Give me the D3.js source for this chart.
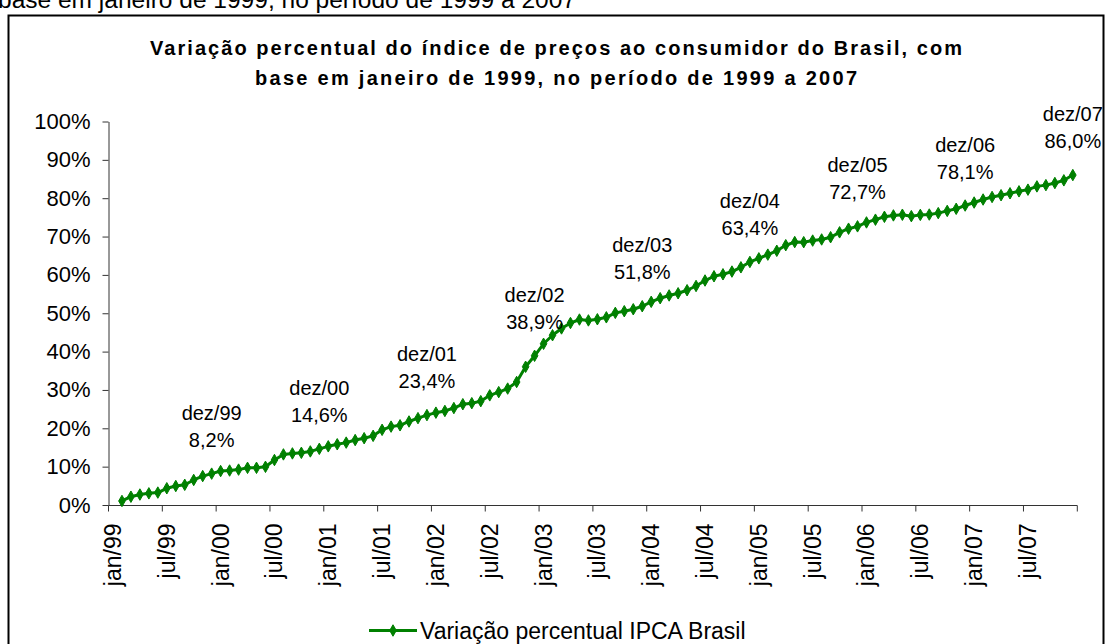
<!DOCTYPE html>
<html>
<head>
<meta charset="utf-8">
<script src="https://cdn.jsdelivr.net/npm/d3@7"></script>
<style>
  html, body { margin: 0; padding: 0; background: #fff; }
  svg { display: block; font-family: "Liberation Sans", Arial, sans-serif; }
</style>
</head>
<body>
<svg id="chart" width="1106" height="644"></svg>
<script>
// ---- DATA ----
const monthNames = ["jan","fev","mar","abr","mai","jun","jul","ago","set","out","nov","dez"];
const years = ["99","00","01","02","03","04","05","06","07"];
const categories = [];
years.forEach(y => monthNames.forEach(m => categories.push(m + "/" + y)));

// cumulative % variation (jan/99 = base, no point)
const values = [
  null, 1.05, 2.16, 2.73, 3.04, 3.24, 4.36, 4.95, 5.27, 6.53, 7.54, 8.18,
  8.85, 8.99, 9.23, 9.69, 9.70, 9.96, 11.73, 13.19, 13.45, 13.61, 13.97, 14.65,
  15.30, 15.83, 16.27, 16.94, 17.42, 18.03, 19.60, 20.44, 20.78, 21.78, 22.65, 23.44,
  24.08, 24.53, 25.28, 26.28, 26.55, 27.08, 28.59, 29.43, 30.36, 32.07, 36.05, 38.91,
  42.04, 44.27, 46.04, 47.46, 48.36, 48.13, 48.43, 48.94, 50.10, 50.53, 51.04, 51.83,
  52.98, 53.92, 54.64, 55.21, 56.00, 57.11, 58.54, 59.64, 60.16, 60.87, 61.98, 63.37,
  64.32, 65.29, 66.29, 67.74, 68.56, 68.53, 68.95, 69.24, 69.83, 71.10, 72.05, 72.66,
  73.68, 74.40, 75.15, 75.51, 75.69, 75.32, 75.65, 75.74, 76.11, 76.69, 77.24, 78.09,
  78.87, 79.66, 80.32, 80.78, 81.28, 81.79, 82.23, 83.08, 83.41, 83.96, 84.66, 86.03
];

const xTickLabels = ["jan/99","jul/99","jan/00","jul/00","jan/01","jul/01","jan/02","jul/02",
  "jan/03","jul/03","jan/04","jul/04","jan/05","jul/05","jan/06","jul/06","jan/07","jul/07"];
const yTicks = [0,10,20,30,40,50,60,70,80,90,100];

const annotCategories = ["dez/99","dez/00","dez/01","dez/02","dez/03","dez/04","dez/05","dez/06","dez/07"];
const annotTexts = ["8,2%","14,6%","23,4%","38,9%","51,8%","63,4%","72,7%","78,1%","86,0%"];

const titleLines = [
  "Variação percentual do índice de preços ao consumidor do Brasil, com",
  "base em janeiro de 1999, no período de 1999 a 2007"
];
const topFragment = "base em janeiro de 1999, no período de 1999 a 2007";
const seriesName = "Variação percentual IPCA Brasil";

// ---- CHART ----
const svg = d3.select("#chart");
const green = "#008000";
const axisColor = "#333";

// cut-off text above frame
svg.append("text")
  .attr("x", -2).attr("y", 8)
  .attr("font-size", 23)
  .attr("textLength", 578).attr("lengthAdjust", "spacingAndGlyphs")
  .attr("fill", "#000")
  .text(topFragment);

// frame
svg.append("rect")
  .attr("x", 8.5).attr("y", 15.5)
  .attr("width", 1095).attr("height", 700)
  .attr("fill", "#fff").attr("stroke", "#000").attr("stroke-width", 2);

// title
const titleWidths = [812, 602];
titleLines.forEach((t, i) => {
  svg.append("text")
    .attr("x", 556).attr("y", 55 + i * 30)
    .attr("text-anchor", "middle")
    .attr("font-size", 20).attr("font-weight", "bold")
    .attr("textLength", titleWidths[i]).attr("lengthAdjust", "spacing")
    .text(t);
});

const x = d3.scaleBand().domain(categories).range([108.5, 1077.3]).padding(0);
const y = d3.scaleLinear().domain([0, 100]).range([505, 121.5]);
const cx = c => x(c) + x.bandwidth() / 2;

// Y axis
const yAxis = svg.append("g").attr("transform", "translate(108.5,0)")
  .call(d3.axisLeft(y).tickValues(yTicks).tickFormat(d => d + "%").tickSize(6).tickSizeOuter(0));
yAxis.select(".domain").attr("stroke", axisColor);
yAxis.selectAll(".tick line").attr("stroke", axisColor);
yAxis.selectAll(".tick text")
  .attr("x", -18).attr("font-size", 22).attr("fill", "#000")
  .attr("font-family", "Liberation Sans, Arial, sans-serif");

// X axis: ticks between categories, every 6 months
const xAxisG = svg.append("g").attr("transform", "translate(0,505.5)");
xAxisG.append("line")
  .attr("x1", x.range()[0]).attr("x2", x.range()[1])
  .attr("stroke", axisColor);
const tickCats = d3.range(0, categories.length + 1, 6);
xAxisG.selectAll("line.tk").data(tickCats).join("line").attr("class", "tk")
  .attr("x1", i => i < categories.length ? x(categories[i]) : x.range()[1])
  .attr("x2", i => i < categories.length ? x(categories[i]) : x.range()[1])
  .attr("y1", 0).attr("y2", 6).attr("stroke", axisColor);
xAxisG.selectAll("text.lbl").data(xTickLabels).join("text").attr("class", "lbl")
  .attr("transform", d => `translate(${cx(d) + 8},18) rotate(-90)`)
  .attr("text-anchor", "end")
  .attr("font-size", 23)
  .text(d => d);

// line
const pts = categories.map((c, i) => ({c, v: values[i]})).filter(d => d.v != null);
const line = d3.line().x(d => cx(d.c)).y(d => y(d.v));
svg.append("path").datum(pts)
  .attr("d", line).attr("fill", "none")
  .attr("stroke", green).attr("stroke-width", 3).attr("stroke-linejoin", "round");

const diamond = d3.symbol().type(d3.symbolDiamond).size(38);
svg.selectAll("path.mk").data(pts).join("path").attr("class", "mk")
  .attr("d", diamond)
  .attr("transform", d => `translate(${cx(d.c)},${y(d.v)})`)
  .attr("fill", green).attr("stroke", green).attr("stroke-width", 1);

// data labels
annotCategories.forEach((c, i) => {
  const v = values[categories.indexOf(c)];
  const g = svg.append("g");
  g.append("text").attr("x", cx(c)).attr("y", y(v) - 54)
    .attr("text-anchor", "middle").attr("font-size", 20).text(c);
  g.append("text").attr("x", cx(c)).attr("y", y(v) - 27)
    .attr("text-anchor", "middle").attr("font-size", 20).text(annotTexts[i]);
});

// legend
const lg = svg.append("g");
lg.append("line").attr("x1", 369).attr("x2", 417).attr("y1", 630.5).attr("y2", 630.5)
  .attr("stroke", green).attr("stroke-width", 3);
lg.append("path").attr("d", diamond).attr("transform", "translate(393,630.5)")
  .attr("fill", green).attr("stroke", green);
lg.append("text").attr("x", 420).attr("y", 638.5).attr("font-size", 23).text(seriesName);
</script>
</body>
</html>
